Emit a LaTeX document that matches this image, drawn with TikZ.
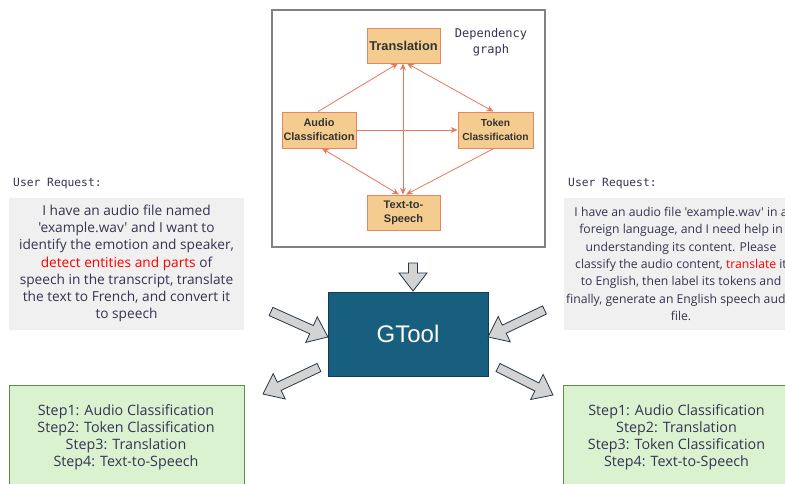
\documentclass[tikz,border=0pt]{standalone}
\usepackage{fontspec}
\usetikzlibrary{arrows.meta,calc}
\newfontfamily\comicf{Open Sans}
\newfontfamily\helvf{Liberation Sans}
\newfontfamily\monof{DejaVu Sans Mono}
\definecolor{txt}{RGB}{52,52,82}
\definecolor{gfill}{RGB}{244,204,143}
\definecolor{gdraw}{RGB}{230,132,100}
\definecolor{garrow}{RGB}{228,122,92}
\definecolor{frameg}{RGB}{130,130,130}
\definecolor{gtoolf}{RGB}{24,94,126}
\definecolor{gtoold}{RGB}{18,60,82}
\definecolor{barrowf}{RGB}{211,211,211}
\definecolor{barrowd}{RGB}{38,55,74}
\definecolor{reqf}{RGB}{240,240,240}
\definecolor{greenf}{RGB}{218,242,208}
\definecolor{greend}{RGB}{95,140,75}
\tikzset{
  gnode/.style={draw=gdraw, fill=gfill, line width=0.8pt, align=center, text=black!80, inner sep=0pt},
  garr/.style={draw=garrow, line width=0.8pt, -{Stealth[length=7pt,width=6pt]}},
  garrb/.style={draw=garrow, line width=0.8pt, {Stealth[length=7pt,width=6pt]}-{Stealth[length=7pt,width=6pt]}},
  blockarrow/.style={draw=barrowd, fill=barrowf, line width=0.8pt, line join=miter},
  reqbox/.style={fill=reqf, draw=none, inner sep=0pt},
  greenbox/.style={fill=greenf, draw=greend, line width=0.9pt, inner sep=0pt},
  reqtext/.style={align=center, text=txt, font=\comicf\fontsize{13.7}{17.3}\selectfont, inner sep=0pt},
  reqtextr/.style={align=center, text=txt, font=\comicf\fontsize{12.2}{17.3}\selectfont, inner sep=0pt},
  steptext/.style={align=center, text=txt, font=\comicf\fontsize{14.3}{17}\selectfont, inner sep=0pt},
  monolabel/.style={text=txt, font=\monof\fontsize{11.3}{16}\selectfont, inner sep=0pt, anchor=base west},
}
\newcommand{\blockarr}[4]{%
  \begin{scope}[shift={(#1,#2)}, rotate=#3]
    \draw[blockarrow] (0,-4.5) -- (#4-18,-4.5) -- (#4-18,-14) -- (#4,0) -- (#4-18,14) -- (#4-18,4.5) -- (0,4.5) -- cycle;
  \end{scope}}
\begin{document}
\begin{tikzpicture}[x=1pt,y=-1pt]
\clip (0,0) rectangle (785,484);
\fill[white] (0,0) rectangle (785,484);

% dependency graph frame
\node[draw=frameg, line width=2.5pt, minimum width=273pt, minimum height=237pt, inner sep=0pt] (dg) at (408.5,128.5) {};
\node[align=center, text=txt, font=\monof\fontsize{12}{16}\selectfont, inner sep=0pt] (dglab) at (491,42) {Dependency\\graph};

\node[gnode, minimum width=73pt, minimum height=35pt, font=\helvf\bfseries\fontsize{12.8}{14}\selectfont] (tr) at (403.5,45.5) {Translation};
\node[gnode, minimum width=74pt, minimum height=36pt, font=\helvf\bfseries\fontsize{10.9}{14}\selectfont] (ac) at (319,130) {Audio\\Classification};
\node[gnode, minimum width=75pt, minimum height=36pt, font=\helvf\bfseries\fontsize{10.2}{13.5}\selectfont] (tc) at (495.5,130) {Token\\Classification};
\node[gnode, minimum width=73pt, minimum height=35pt, font=\helvf\bfseries\fontsize{11}{14}\selectfont] (tts) at (403.5,212.5) {Text-to-\\Speech};

\draw[garr] ($(ac.north)+(-1,0)$) -- ($(tr.south)+(-5.5,0)$);
\draw[garrb] ($(tr.south)+(3.5,0)$) -- ($(tc.north)+(-2,0)$);
\draw[garrb] ($(tr.south)+(-0.5,0)$) -- ($(tts.north)+(-0.5,0)$);
\draw[garr] (ac.east) -- (tc.west);
\draw[garrb] ($(ac.south)+(3,0)$) -- ($(tts.north)+(-4.5,0)$);
\draw[garr] ($(tc.south)+(-1.5,0)$) -- ($(tts.north)+(2.5,0)$);

% user requests
\node[monolabel] (lreqlab) at (13,187) {User Request:};
\node[monolabel] (rreqlab) at (568,187) {User Request:};
\node[reqbox, minimum width=235pt, minimum height=132pt] (lreq) at (126.5,264) {};
\node[reqtext] (lreqt) at (126.5,263.5) {I have an audio file named\\'example.wav' and I want to\\identify the emotion and speaker,\\\textcolor{red}{detect entities and parts} of\\speech in the transcript, translate\\the text to French, and convert it\\to speech};
\node[reqbox, minimum width=235pt, minimum height=132pt] (rreq) at (681.5,264) {};
\node[reqtextr] (rreqt) at (681,264) {I have an audio file 'example.wav' in a\\foreign language, and I need help in\\understanding its content. Please\\classify the audio content, \textcolor{red}{translate} it\\to English, then label its tokens and\\finally, generate an English speech audio\\file.};

% GTool
\node[draw=gtoold, fill=gtoolf, line width=0.9pt, minimum width=160pt, minimum height=84pt, text=white, font=\helvf\fontsize{24}{28}\selectfont] (gt) at (408,334) {GTool};

% block arrows
\blockarr{413}{263}{-90}{28}
\blockarr{271}{311.5}{-24.1}{62.4}
\blockarr{544.5}{310}{-154.5}{62.6}
\blockarr{319}{367.5}{-154.7}{62}
\blockarr{498}{367.5}{-26.6}{61.5}

% outputs
\node[greenbox, minimum width=235pt, minimum height=110pt] (lout) at (126.5,440) {};
\node[steptext] (loutt) at (126,437) {Step1: Audio Classification\\Step2: Token Classification\\Step3: Translation\\Step4: Text-to-Speech};
\node[greenbox, minimum width=235pt, minimum height=110pt] (rout) at (680.5,440) {};
\node[steptext] (routt) at (676.5,437) {Step1: Audio Classification\\Step2: Translation\\Step3: Token Classification\\Step4: Text-to-Speech};
\end{tikzpicture}
\end{document}
